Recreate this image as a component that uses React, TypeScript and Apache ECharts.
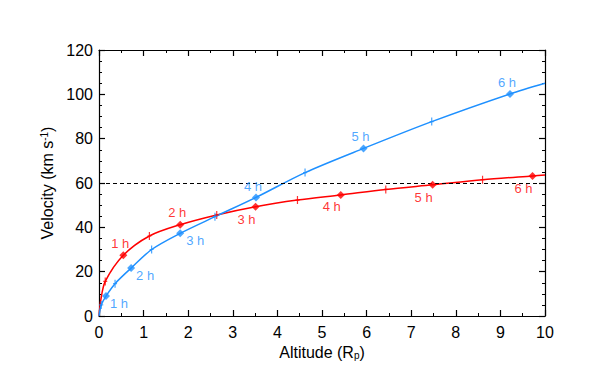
import React, { useEffect, useRef } from "react";
import * as echarts from "echarts";

// ---- data ----
const hourLabels = ["1 h", "2 h", "3 h", "4 h", "5 h", "6 h"];

const redHourX = [0.545, 1.82, 3.51, 5.42, 7.48, 9.72];
const redHourY = [27.4, 41.2, 49.3, 54.6, 59.2, 63.2];
const redHalfX = [0.14, 1.13, 2.64, 4.45, 6.43, 8.6];
const redHalfY = [15.6, 36.1, 45.6, 52.3, 57.1, 61.5];
const redExtraX = [0, 0.04, 10];
const redExtraY = [0, 7.2, 63.6];

const blueHourX = [0.157, 0.72, 1.82, 3.52, 5.93, 9.215];
const blueHourY = [9.0, 21.6, 37.3, 53.5, 75.6, 100.2];
const blueHalfX = [0.05, 0.36, 1.18, 2.6, 4.62, 7.46];
const blueHalfY = [5.0, 14.6, 30.0, 44.8, 64.7, 87.7];
const blueExtraX = [0, 10];
const blueExtraY = [0, 105.0];

const thresholdVelocity = 60;

const xMin = 0, xMax = 10, xStep = 1;
const yMin = 0, yMax = 120, yStep = 20;

// ---- styling ----
const RED = "#ff0000";
const BLUE = "#1e90ff";
const FONT = "Liberation Sans";
const redLabelOffsets = [[-3, -12], [-3, -12], [-9, 13], [-9, 12], [-9, 13], [-9, 13]];
const blueLabelOffsets = [[13, 7], [14, 7], [15, 7], [-3, -11], [-3, -12], [-3, -11]];
const PLUS = "path://M-0.6,-4H0.6V4H-0.6Z M-2,-0.6H2V0.6H-2Z";

function zip(xs: number[], ys: number[]) {
  return xs.map((x, i) => [x, ys[i]]);
}

function curve(...sets: number[][][]) {
  return sets.flat().sort((a, b) => a[0] - b[0]);
}

export default function App() {
  const ref = useRef<HTMLDivElement>(null);
  useEffect(() => {
    if (!ref.current) return;
    const chart = echarts.init(ref.current, null, { renderer: "svg" });

    const axisCommon = {
      type: "value",
      axisLine: { show: true, onZero: false, lineStyle: { color: "#000", width: 1.2 } },
      axisTick: { show: true, inside: true, length: 6, lineStyle: { color: "#000", width: 1.2 } },
      minorTick: { show: true, length: 3, lineStyle: { color: "#000", width: 1 } },
      splitLine: { show: false },
    };

    const hourSeries = (xs: number[], ys: number[], color: string, offs: number[][]) => ({
      type: "scatter",
      symbol: "diamond",
      symbolSize: 8,
      itemStyle: { color },
      z: 5,
      data: xs.map((x, i) => ({
        value: [x, ys[i]],
        label: {
          show: true,
          formatter: hourLabels[i],
          position: "inside",
          offset: offs[i],
          color,
          fontFamily: FONT,
          fontSize: 13,
        },
      })),
    });

    const halfSeries = (xs: number[], ys: number[], color: string) => ({
      type: "scatter",
      symbol: PLUS,
      symbolSize: [4, 8],
      itemStyle: { color },
      z: 4,
      data: zip(xs, ys),
    });

    chart.setOption({
      animation: false,
      backgroundColor: "#fff",
      grid: { left: 99, right: 53, top: 50, bottom: 54, containLabel: false },
      xAxis: [
        {
          ...axisCommon,
          min: xMin, max: xMax, interval: xStep,
          minorTick: { ...axisCommon.minorTick, splitNumber: 2 },
          axisLabel: { color: "#000", fontFamily: FONT, fontSize: 16, margin: 8 },
          name: "{a|Altitude (R}{sub|p}{a|)}",
          nameLocation: "middle",
          nameGap: 27,
          nameTextStyle: {
            rich: {
              a: { fontFamily: FONT, fontSize: 16, color: "#000" },
              sub: { fontFamily: FONT, fontSize: 10, color: "#000", verticalAlign: "bottom", padding: [6, 0, 0, 0] },
            },
          },
        },
        {
          ...axisCommon,
          position: "top",
          min: xMin, max: xMax, interval: xStep,
          minorTick: { ...axisCommon.minorTick, splitNumber: 2 },
          axisLabel: { show: false },
        },
      ],
      yAxis: [
        {
          ...axisCommon,
          min: yMin, max: yMax, interval: yStep,
          minorTick: { ...axisCommon.minorTick, splitNumber: 4 },
          axisLabel: { color: "#000", fontFamily: FONT, fontSize: 16, margin: 6 },
          name: "{a|Velocity (km s}{sup|-1}{a|)}",
          nameLocation: "middle",
          nameGap: 44,
          nameTextStyle: {
            rich: {
              a: { fontFamily: FONT, fontSize: 16, color: "#000" },
              sup: { fontFamily: FONT, fontSize: 10, color: "#000", verticalAlign: "top", padding: [0, 0, 6, 0] },
            },
          },
        },
        {
          ...axisCommon,
          position: "right",
          min: yMin, max: yMax, interval: yStep,
          minorTick: { ...axisCommon.minorTick, splitNumber: 4 },
          axisLabel: { show: false },
        },
      ],
      series: [
        {
          type: "line",
          smooth: 0.3,
          symbol: "none",
          lineStyle: { color: RED, width: 1.5 },
          data: curve(zip(redExtraX, redExtraY), zip(redHourX, redHourY), zip(redHalfX, redHalfY)),
          z: 3,
          markLine: {
            silent: true,
            symbol: "none",
            label: { show: false },
            lineStyle: { color: "#000", type: [4, 3], width: 1.2 },
            data: [{ yAxis: thresholdVelocity }],
          },
        },
        {
          type: "line",
          smooth: 0.3,
          symbol: "none",
          lineStyle: { color: BLUE, width: 1.5 },
          data: curve(zip(blueExtraX, blueExtraY), zip(blueHourX, blueHourY), zip(blueHalfX, blueHalfY)),
          z: 3,
        },
        halfSeries(redHalfX, redHalfY, RED),
        halfSeries(blueHalfX, blueHalfY, BLUE),
        hourSeries(redHourX, redHourY, RED, redLabelOffsets),
        hourSeries(blueHourX, blueHourY, BLUE, blueLabelOffsets),
      ],
    });
    return () => chart.dispose();
  }, []);

  return (
    <div
      ref={ref}
      style={{ position: "absolute", left: 0, top: 0, width: 598, height: 370, background: "#fff" }}
    />
  );
}
